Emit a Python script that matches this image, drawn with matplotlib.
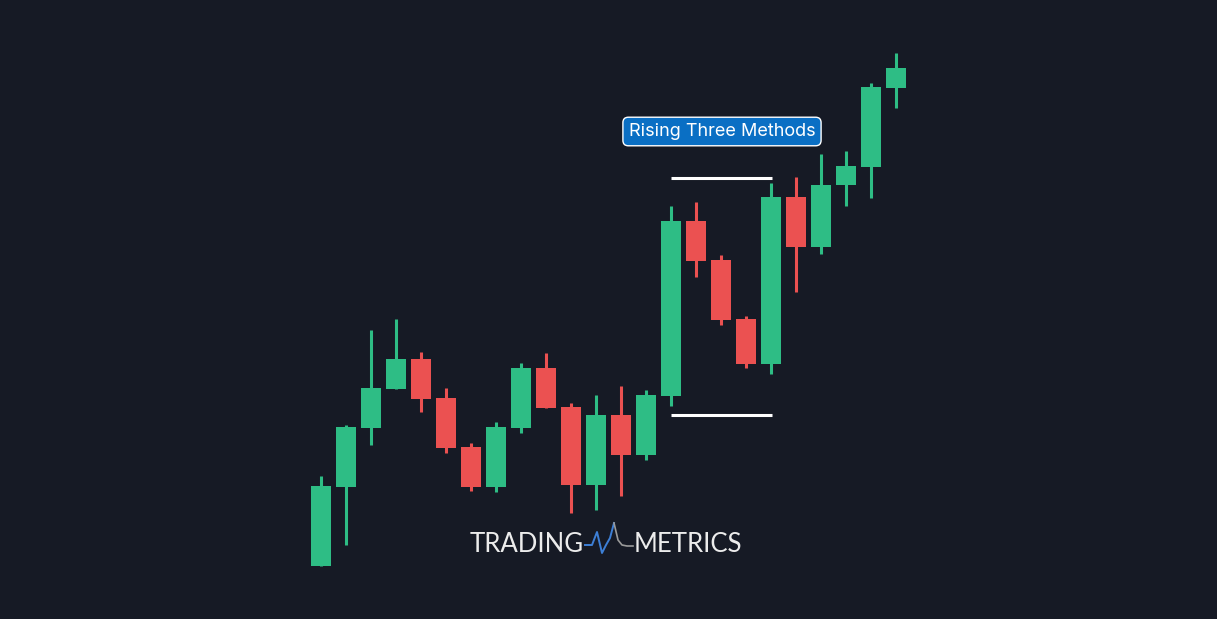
import matplotlib.pyplot as plt
import numpy as np

# candle data (price units, up = higher)
opens  = [53, 132, 191, 230, 260, 221, 172, 132, 191, 251, 212, 134, 204, 164, 223, 398, 359, 300, 255, 422, 372, 434, 452, 531]
closes = [133, 192, 231, 260, 220, 171, 132, 192, 251, 211, 134, 204, 164, 224, 398, 358, 299, 255, 422, 372, 434, 453, 532, 551]
highs  = [143, 194, 289, 300, 267, 231, 176, 197, 256, 266, 216, 224, 233, 229, 413, 417, 364, 303, 436, 442, 465, 468, 536, 566]
lows   = [53, 74, 174, 230, 207, 166, 128, 127, 186, 211, 106, 109, 123, 159, 213, 342, 294, 251, 245, 327, 365, 413, 421, 511]

# pattern range marks
pattern_top = 441
pattern_bottom = 204
pattern_span = (14, 18)

bg = '#161a25'
up_col = '#2ebd85'
down_col = '#eb5151'

fig = plt.figure(figsize=(12.17, 6.19), dpi=100, facecolor=bg)
ax = fig.add_axes([0, 0, 1, 1])
ax.set_facecolor(bg)
ax.set_xlim(-12.84, -12.84 + 1217 / 25)
ax.set_ylim(0, 619)
ax.axis('off')

for i, (o, h, l, c) in enumerate(zip(opens, highs, lows, closes)):
    col = up_col if c >= o else down_col
    ax.vlines(i, l, h, color=col, linewidth=2.2, zorder=2)
    ax.bar(i, abs(c - o), bottom=min(o, c), width=0.8, color=col, zorder=3)

ax.hlines([pattern_top, pattern_bottom], pattern_span[0], pattern_span[1] + 0.04,
          color='white', linewidth=2.2, zorder=4)

ax.text(16.04, 487.5, 'Rising Three Methods', fontsize=13, family='Inter', color='white',
        ha='center', va='center', zorder=5,
        bbox=dict(boxstyle='round,pad=0.32,rounding_size=0.3', fc='#0a6fc4', ec='white', lw=1))

# logo
ax.text(584 / 25 - 12.84, 75, 'TRADING', fontsize=18.5, family='Lato',
        color='#ececec', ha='right', va='center')
ax.text(634 / 25 - 12.84, 75, 'METRICS', fontsize=18.5, family='Lato',
        color='#ececec', ha='left', va='center')
wx = np.array([585, 592, 597, 602, 606, 610, 614, 618, 622, 627, 633]) / 25 - 12.84
wy = 619 - np.array([545, 545, 532, 553, 545, 538, 523, 540, 545, 546, 546])
ax.plot(wx[:7], wy[:7], color='#3d7fd6', lw=1.4)
ax.plot(wx[6:], wy[6:], color='#9a9a9a', lw=1.2)

fig.savefig('out.png', dpi=100, facecolor=bg)
